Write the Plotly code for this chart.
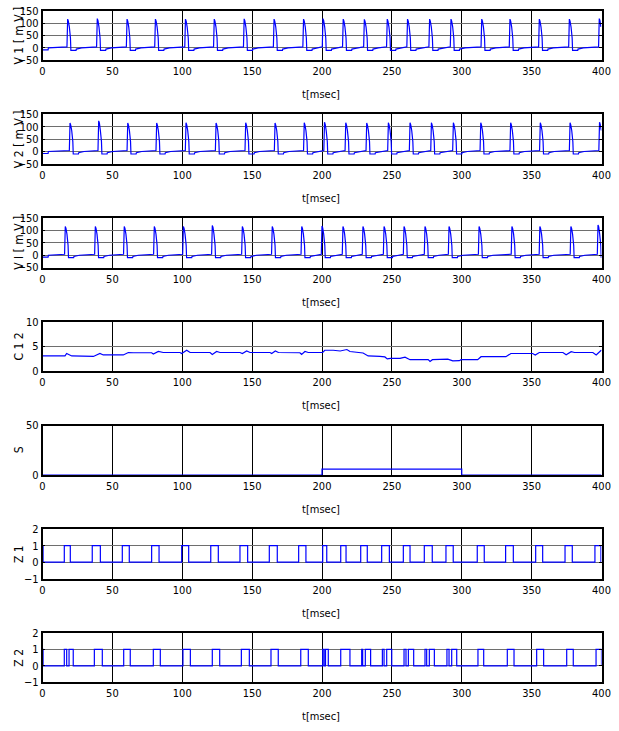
import plotly.graph_objects as go

# ---------------- data ----------------
T_MAX = 400
X_TICKS = [0, 50, 100, 150, 200, 250, 300, 350, 400]

# spike times (msec) and peak heights (mV)
v1_spikes = [18.0, 39.2, 60.5, 80.8, 102.3, 122.9, 144.3, 165.7, 186.8, 200.7, 215.2,
             230.3, 246.7, 261.2, 277.0, 292.3, 314.3, 334.5, 355.5, 377.0, 398.4]
v1_peaks = [116, 118, 116, 116, 116, 116, 117, 116, 116, 118, 116,
            115, 116, 116, 116, 116, 116, 116, 116, 116, 118]
v2_spikes = [19.7, 40.2, 61.0, 81.7, 102.7, 124.2, 145.4, 166.4, 187.3, 201.8, 217.0,
             232.0, 247.5, 263.0, 278.3, 294.0, 313.6, 335.0, 356.2, 377.5, 398.6]
v2_peaks = [115, 124, 115, 115, 116, 115, 116, 115, 116, 118, 116,
            115, 116, 116, 116, 116, 116, 116, 116, 116, 118]
vi_spikes = [16.3, 37.8, 58.5, 80.0, 100.8, 121.5, 143.0, 164.4, 185.5, 200.0, 215.0,
             229.3, 244.4, 258.7, 273.7, 290.9, 312.4, 335.9, 355.9, 378.1, 397.5]
vi_peaks = [116, 116, 116, 116, 116, 120, 116, 116, 116, 118, 116,
            116, 116, 116, 116, 116, 116, 116, 116, 116, 122]

# spike waveform (offset from spike time, mV)
spike_offsets = [-0.5, 0.0, 0.5, 1.2, 2.0, 2.3, 6.0, 6.2, 10.0]
spike_values = [4, None, None, 85, 40, -10, -10, -5, 0]
v_start_t = [0, 4.0, 4.2]
v_start_v = [-8, -8, 0]

# connectivity C12
c12_t = [0, 16.1, 17.3, 19, 20.9, 36.4, 38.7, 41.1, 43.5, 57.8, 61.4, 65, 78.1, 79.3, 82.9,
         86.4, 98.4, 99.6, 103.2, 105.6, 119.9, 121.5, 124.6, 127, 141.3, 143, 146.1, 148.5,
         162.8, 164, 166.6, 168.8, 184.2, 185.4, 187.8, 190.2, 200.5, 202, 208, 213, 217.8,
         220, 229.4, 233, 241.4, 245, 246.7, 249, 255.8, 259.4, 263, 276, 277.3, 279, 290,
         293.6, 298.3, 299.5, 311.4, 313.8, 331.6, 335.2, 350.7, 352.6, 355.5, 372.4, 374.7,
         378.3, 380.7, 393.8, 396.2, 399.7, 400]
c12_v = [3.1, 3.1, 3.6, 3.3, 3.1, 3.0, 3.3, 3.6, 3.3, 3.3, 3.8, 3.75, 3.75, 3.5, 4.0,
         3.8, 3.8, 3.6, 4.25, 3.8, 3.8, 3.4, 4.0, 3.8, 3.8, 3.6, 4.1, 3.8,
         3.8, 3.6, 4.1, 3.8, 3.75, 3.4, 4.0, 3.8, 3.8, 4.25, 4.25, 4.1, 4.4,
         4.0, 3.7, 3.1, 3.0, 2.9, 2.5, 2.6, 2.6, 2.85, 2.35, 2.35, 2.0, 2.35, 2.45,
         2.1, 2.15, 2.35, 2.35, 2.95, 2.95, 3.6, 3.6, 3.3, 3.8, 3.8, 3.35,
         3.95, 3.8, 3.8, 3.3, 4.3, 4.3]

# stimulus S (step)
s_t = [0, 200, 300, 400]
s_v = [0, 6, 0, 0]

# Z1 / Z2 pulse windows (start, end) in msec
z1_pulses = [(0, 0.4), (15.6, 19.9), (35.6, 41.4), (57.1, 62.1), (78.1, 83.4), (99.6, 104.6),
             (120.4, 125.8), (141.3, 146.8), (162.3, 168.0), (183.3, 188.5), (200.5, 203.4),
             (213.4, 217.2), (227.7, 232.4), (242.7, 248.2), (258.2, 263.0), (273.2, 278.9),
             (288.7, 293.9), (311.1, 316.1), (331.4, 336.9), (352.9, 357.9), (373.9, 379.1),
             (395.3, 399.6)]
z2_pulses = [(0, 0.4), (15.6, 17.3), (19.0, 22.0), (37.1, 42.8), (58.1, 62.8), (79.3, 84.3),
             (100.5, 105.8), (121.5, 126.8), (142.3, 148.0), (163.5, 168.7), (184.8, 190.2),
             (200.5, 201.5), (202.5, 204.5), (213.4, 220.0), (228.4, 229.1), (231.0, 234.8),
             (243.2, 244.4), (246.3, 249.9), (258.7, 260.1), (261.8, 265.6), (273.7, 274.9),
             (276.8, 280.4), (289.4, 290.9), (292.8, 296.4), (311.6, 315.7), (332.6, 337.4),
             (353.6, 358.6), (375.1, 379.8), (396.1, 400.0)]

V_TICKS = [-50, 0, 50, 100, 150]
C_TICKS = [0, 5, 10]
S_TICKS = [0, 50]
Z_TICKS = [-1, 0, 1, 2]
Y_TITLES = ["V 1 [ m V ]", "V 2 [ m V ]", "V I [ m V ]", "C 1 2", "S", "Z 1", "Z 2"]
X_TITLE = "t[msec]"


def build_v(spikes, peaks):
    xs, ys = list(v_start_t), list(v_start_v)
    for s, p in zip(spikes, peaks):
        for off, val in zip(spike_offsets, spike_values):
            t = s + off
            if t > T_MAX:
                continue
            if val is None:
                val = p if off == 0.0 else p - 8
            xs.append(t)
            ys.append(val)
    return xs, ys


def build_z(pulses):
    xs, ys = [], []
    for a, b in pulses:
        xs += [a, b]
        ys += [1, 0]
    xs.append(T_MAX)
    ys.append(0)
    return xs, ys


series = [build_v(v1_spikes, v1_peaks), build_v(v2_spikes, v2_peaks),
          build_v(vi_spikes, vi_peaks), (c12_t, c12_v), (s_t, s_v),
          build_z(z1_pulses), build_z(z2_pulses)]
shapes_hv = [False, False, False, False, True, True, True]
y_ranges = [[-50, 150]] * 3 + [[0, 10], [0, 50], [-1, 2], [-1, 2]]
y_ticks = [V_TICKS] * 3 + [C_TICKS, S_TICKS, Z_TICKS, Z_TICKS]

# ---------------- layout ----------------
W, H = 619, 731
FONT = "Liberation Sans Narrow, DejaVu Sans Condensed, Arial Narrow, sans-serif"
x0, x1 = 42.5 / W, 601.5 / W
top0, step, ph = 10.7, 103.7, 49.5

fig = go.Figure()
layout = dict(width=W, height=H, margin=dict(l=0, r=0, t=0, b=0, pad=0, autoexpand=False),
              paper_bgcolor="white", plot_bgcolor="white", showlegend=False,
              font=dict(family=FONT, size=11, color="black"))
annotations = []
for i, ((xs, ys), hv) in enumerate(zip(series, shapes_hv)):
    n = "" if i == 0 else str(i + 1)
    top = top0 + step * i
    bot = top + ph
    fig.add_trace(go.Scatter(x=xs, y=ys, mode="lines", xaxis="x" + n, yaxis="y" + n,
                             line=dict(color="#0000ff", width=1.2,
                                       shape="hv" if hv else "linear"),
                             hoverinfo="skip"))
    layout["xaxis" + n] = dict(domain=[x0, x1], anchor="y" + n, range=[0, T_MAX],
                               tickvals=X_TICKS, showgrid=True, gridcolor="black",
                               gridwidth=1, zeroline=False, showline=True,
                               linecolor="black", linewidth=1.5, mirror="ticks",
                               ticks="inside", ticklen=3, tickcolor="black",
                               automargin=False,
                               tickfont=dict(size=11, family=FONT),
                               layer="below traces" if i == 4 else "above traces")
    grid_y = i != 4
    layout["yaxis" + n] = dict(domain=[1 - bot / H, 1 - top / H], anchor="x" + n,
                               range=y_ranges[i], tickvals=y_ticks[i],
                               showgrid=grid_y, gridcolor="#6e6e6e", gridwidth=1.3,
                               zeroline=False, showline=True, linecolor="black",
                               linewidth=1.5, mirror="ticks", ticks="inside",
                               ticklen=3, tickcolor="black", automargin=False,
                               tickfont=dict(size=11, family=FONT))
    annotations.append(dict(text=Y_TITLES[i], xref="paper", yref="paper",
                            x=19 / W, y=1 - (top + ph / 2) / H, textangle=-90,
                            showarrow=False, xanchor="center", yanchor="middle",
                            font=dict(size=12, family=FONT)))
    annotations.append(dict(text=X_TITLE, xref="paper", yref="paper",
                            x=321 / W, y=1 - (bot + 34.5) / H, showarrow=False,
                            xanchor="center", yanchor="middle",
                            font=dict(size=11, family=FONT)))
layout["annotations"] = annotations
fig.update_layout(**layout)
fig.write_html("out.html", config={"displayModeBar": False},
               post_script="document.body.style.margin='0';")
